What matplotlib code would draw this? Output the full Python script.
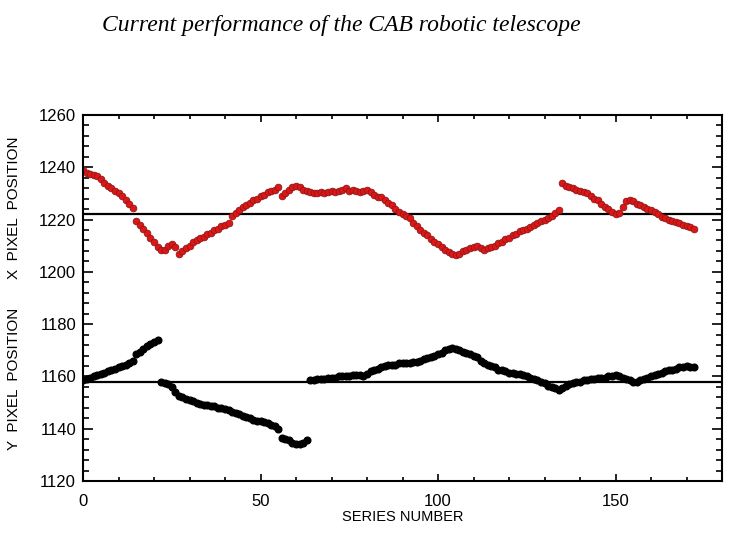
import numpy as np
from matplotlib import pyplot as plt
from matplotlib.ticker import MultipleLocator

# X pixel position per series (red)
x_pixel = [1239, 1238, 1237.5, 1237, 1236.5, 1235.5, 1234, 1233, 1232, 1231, 1230, 1229, 1227.5, 1226, 1224.5,
           1219.5, 1218, 1216.5, 1215, 1213, 1211.5, 1209.5, 1208.5, 1208.5, 1210, 1210.5, 1209.5, 1207, 1208, 1209,
           1210, 1211.5, 1212, 1213, 1213.5, 1214.5, 1215, 1216, 1216.5, 1217.5, 1218, 1218.5,
           1221.5, 1222.5, 1223.5, 1225, 1225.5, 1226.5, 1227.5, 1228, 1229, 1229.5, 1230.5, 1231, 1231.5, 1232.5,
           1229, 1230, 1231.5, 1232.5, 1233, 1232.5, 1231.5, 1231, 1230.5, 1230, 1230, 1230.5, 1230, 1230.5, 1231,
           1230.5, 1231, 1231.5, 1232, 1231, 1231.5, 1231, 1230.5, 1231, 1231.5,
           1230.5, 1229.5, 1228.5, 1228.5, 1227.5, 1226.5, 1225.5, 1224, 1223, 1222, 1221.5, 1220.5, 1218.5, 1217.5,
           1216, 1215, 1214, 1212.5, 1211.5, 1210.5, 1209.5, 1208.5, 1207.5, 1207, 1206.5,
           1207, 1208, 1208.5, 1209, 1209.5, 1210, 1209, 1208.5, 1209, 1209.5, 1210, 1211, 1211.5, 1212.5, 1213,
           1214, 1214.5, 1215.5, 1216, 1216.5, 1217, 1218, 1218.5, 1219.5, 1220, 1220.5, 1221.5, 1222.5, 1223.5,
           1234, 1233, 1232.5, 1232, 1231.5, 1231, 1230.5, 1230, 1229, 1228, 1227.5, 1226, 1225, 1224, 1223, 1222,
           1222.5, 1225, 1227, 1227.5, 1227, 1226, 1225.5, 1225, 1224, 1223.5, 1223, 1222, 1221, 1220.5, 1220,
           1219.5, 1219, 1218.5, 1218, 1217.5, 1217, 1216.5]

# Y pixel position per series (black)
y_pixel = [1158.5, 1159, 1159.5, 1160, 1160.5, 1161, 1161.5, 1162, 1162.5, 1163, 1163.5, 1164, 1164.5, 1165, 1166,
           1168.5, 1169.5, 1170.5, 1171.5, 1172.5, 1173, 1174,
           1158, 1157.5, 1157, 1156, 1154, 1152.5, 1152, 1151.5, 1151, 1150.5, 1150, 1149.5, 1149, 1149, 1148.5,
           1148.5, 1148, 1148, 1147.5, 1147, 1146.5, 1146, 1145.5, 1145, 1144.5, 1144, 1143.5, 1143, 1143, 1142.5,
           1142, 1141.5, 1141, 1140, 1136.5, 1136, 1135.5, 1134.5, 1134, 1134, 1134.5, 1135.5,
           1158.5, 1158.5, 1159, 1159, 1159, 1159.5, 1159.5, 1159.5, 1160, 1160, 1160, 1160, 1160.5, 1160.5, 1160.5,
           1160, 1161, 1162, 1162.5, 1163, 1163.5, 1164, 1164.5, 1164.5, 1164.5, 1165, 1165, 1165, 1165, 1165.5,
           1165.5, 1166, 1166.5, 1167, 1167.5, 1168, 1168.5, 1169, 1170, 1170.5, 1171, 1170.5, 1170, 1169.5, 1169,
           1168.5, 1168, 1167.5, 1166, 1165, 1164.5, 1164, 1163.5, 1162.5, 1162.5, 1162, 1161.5, 1161.5, 1161, 1161,
           1160.5, 1160, 1159.5, 1159, 1158.5, 1158, 1157.5, 1156.5, 1156, 1155.5, 1155, 1155.5, 1156.5, 1157,
           1157.5, 1158, 1158, 1158.5, 1158.5, 1159, 1159, 1159.5, 1159.5, 1159.5, 1160, 1160, 1160.5, 1160, 1159.5,
           1159, 1158.5, 1158, 1158, 1158.5, 1159, 1159.5, 1160, 1160.5, 1161, 1161.5, 1162, 1162.5, 1162.5, 1163,
           1163.5, 1163.5, 1164, 1163.5, 1163.5]

# reference levels
x_ref = 1222
y_ref = 1158

title = 'Current performance of the CAB robotic telescope'

series_x = np.arange(len(x_pixel))
series_y = np.arange(len(y_pixel))

fig = plt.figure(figsize=(7.45, 5.38), dpi=100)
ax = fig.add_axes([83/745, 1-481/538, (722-83)/745, (481-115)/538])

ax.axhline(x_ref, color='k', lw=1.6, zorder=1)
ax.axhline(y_ref, color='k', lw=1.6, zorder=1)
ax.plot(series_x, x_pixel, 'o', ms=4.8, mfc='#e01515', mec='#8a1a1a', mew=0.6, zorder=2)
ax.plot(series_y, y_pixel, 'o', ms=4.8, color='k', zorder=2)

ax.set_xlim(0, 180)
ax.set_ylim(1120, 1260)
ax.xaxis.set_major_locator(MultipleLocator(50))
ax.xaxis.set_minor_locator(MultipleLocator(10))
ax.yaxis.set_major_locator(MultipleLocator(20))
ax.yaxis.set_minor_locator(MultipleLocator(4))
ax.tick_params(axis='both', which='both', direction='in', top=True, right=True, width=1.2)
ax.tick_params(axis='x', which='major', length=5, pad=9)
ax.tick_params(axis='x', which='minor', length=3)
ax.tick_params(axis='y', which='major', length=7, pad=5)
ax.tick_params(axis='y', which='minor', length=4.5)
for lab in ax.get_xticklabels() + ax.get_yticklabels():
    lab.set_fontfamily('Liberation Sans')
    lab.set_fontsize(12)
for sp in ax.spines.values():
    sp.set_linewidth(1.5)

ax.set_xlabel('SERIES NUMBER', fontfamily='Liberation Sans', fontsize=10.5, labelpad=1)
fig.text(14/745, 1-208/538, 'X  PIXEL  POSITION', rotation=90, ha='center', va='center',
         fontfamily='Liberation Sans', fontsize=11)
fig.text(14/745, 1-379/538, 'Y  PIXEL  POSITION', rotation=90, ha='center', va='center',
         fontfamily='Liberation Sans', fontsize=11)

fig.text(102/745, 1-25/538, title, ha='left', va='center',
         fontfamily='Liberation Serif', style='italic', fontsize=17)

plt.savefig('out.png', dpi=100)
